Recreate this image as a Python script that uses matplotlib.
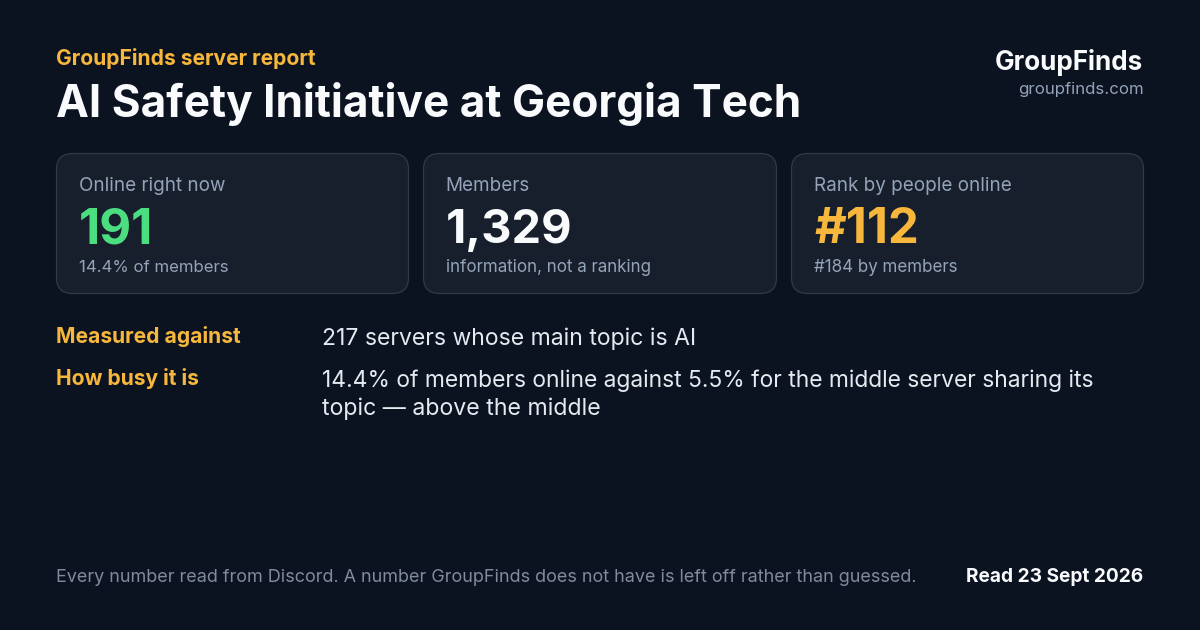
import matplotlib
matplotlib.use("Agg")
import matplotlib.pyplot as plt
from matplotlib.patches import FancyBboxPatch

W, H = 1200, 630

# text content
eyebrow = "GroupFinds server report"
title = "AI Safety Initiative at Georgia Tech"
brand = "GroupFinds"
brand_url = "groupfinds.com"

card_labels = ["Online right now", "Members", "Rank by people online"]
card_values = ["191", "1,329", "#112"]
card_notes = ["14.4% of members", "information, not a ranking", "#184 by members"]

row_labels = ["Measured against", "How busy it is"]
row_lines = ["217 servers whose main topic is AI",
             "14.4% of members online against 5.5% for the middle server sharing its",
             "topic \u2014 above the middle"]

footer = "Every number read from Discord. A number GroupFinds does not have is left off rather than guessed."
read_date = "Read 23 Sept 2026"

BG = "#0b1220"
CARD = "#171f2c"
EDGE = "#323a46"
AMBER = "#f6b73c"
GREEN = "#4ade80"
WHITE = "#f8fafc"
MUTED = "#94a3b8"
BODY = "#e6eaf0"
FOOT = "#808b9e"

plt.rcParams["font.family"] = ["Inter", "DejaVu Sans"]

fig = plt.figure(figsize=(W / 100, H / 100), dpi=100, facecolor=BG)
ax = fig.add_axes([0, 0, 1, 1])
ax.set_xlim(0, W)
ax.set_ylim(H, 0)
ax.axis("off")


def px(size):
    # css px to points at this dpi
    return size * 72 / 100


def label(x, y, s, size, color, weight="normal", ha="left", va="baseline", **kw):
    ax.text(x, y, s, fontsize=px(size), color=color, fontweight=weight, ha=ha, va=va, **kw)


label(56, 65, eyebrow, 21, AMBER, "bold")
label(56, 117, title, 44.1, WHITE, "bold")
label(1143.5, 70, brand, 26, WHITE, "bold", ha="right")
label(1143.5, 94, brand_url, 16.9, MUTED, ha="right")

card_x = [56.5, 423.5, 791.5]
card_w = [352, 353, 352]
value_colors = [GREEN, WHITE, AMBER]
value_sizes = [49.2, 47, 49]  # the figures run a bit differently per string
note_sizes = [16.75, 17, 17]
label_x = [79, 445.6, 814]
for i in range(3):
    r = 16
    ax.add_patch(FancyBboxPatch((card_x[i] + r, 153.5 + r), card_w[i] - 2 * r, 140 - 2 * r,
                                boxstyle=f"round,pad={r},rounding_size={r}",
                                fc=CARD, ec=EDGE, lw=0.9))
    label(label_x[i], 191, card_labels[i], 18.9, MUTED)
    label(label_x[i], 243, card_values[i], value_sizes[i], value_colors[i], "bold")
    label(label_x[i], 272, card_notes[i], note_sizes[i], MUTED)

label(56, 343, row_labels[0], 21, AMBER, "bold")
label(56, 385, row_labels[1], 21, AMBER, "bold")
line_y = [345, 387, 415]
line_sizes = [23, 22.85, 23.1]
for j in range(3):
    label(322, line_y[j], row_lines[j], line_sizes[j], BODY)

label(56, 582, footer, 18, FOOT)
label(1143.5, 582, read_date, 19.1, WHITE, "bold", ha="right")

fig.savefig("out.png", dpi=100, facecolor=BG)
